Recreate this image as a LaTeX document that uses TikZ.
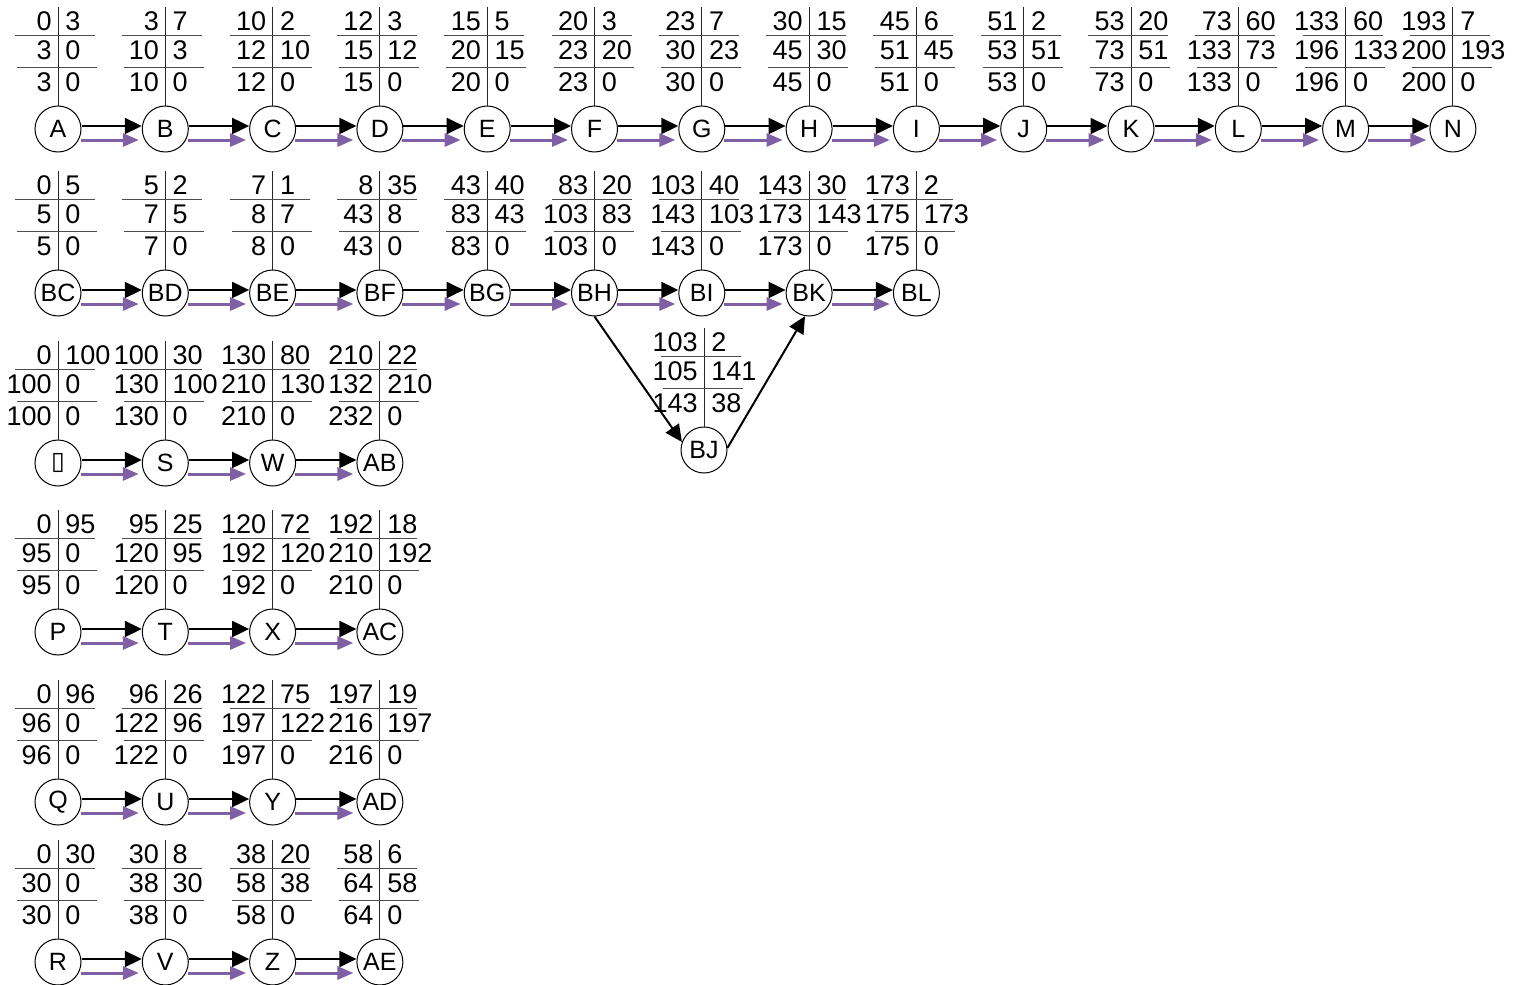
\documentclass[tikz,border=0pt]{standalone}
\usepackage{fontspec}
\setmainfont{Liberation Sans}
\newfontfamily\dejavu{DejaVu Sans}
\usetikzlibrary{arrows.meta}
\newcommand\emptyglyph{{\dejavu ▯}}
\definecolor{cpmpurple}{RGB}{128,96,164}
\tikzset{
  circ/.style={draw, circle, line width=0.5pt, minimum size=23pt, inner sep=0pt, font=\fontsize{12.5}{14}\selectfont},
  tline/.style={line width=0.5pt, draw=black!85},
  hline/.style={line width=0.5pt, draw=black!70},
  lnum/.style={anchor=east, inner sep=0pt, font=\fontsize{13.5}{15}\selectfont},
  rnum/.style={anchor=west, inner sep=0pt, font=\fontsize{13.5}{15}\selectfont},
  blk/.style={line width=1pt, -{Triangle[length=8.5pt,width=8pt]}},
  prp/.style={line width=1.5pt, draw=cpmpurple, -{Triangle[length=8pt,width=6.5pt]}, cpmpurple},
}
\begin{document}
\begin{tikzpicture}[x=0.5pt, y=-0.5pt]
\useasboundingbox (0,0) rectangle (1523,985);
\foreach \n/\x/\y/\lab/\pa/\pb/\pc/\pd/\pe/\pf in {
 A/58/129/A/0/3/3/0/3/0,
 B/165.3/129/B/3/7/10/3/10/0,
 C/272.6/129/C/10/2/12/10/12/0,
 D/379.9/129/D/12/3/15/12/15/0,
 E/487.2/129/E/15/5/20/15/20/0,
 F/594.5/129/F/20/3/23/20/23/0,
 G/701.8/129/G/23/7/30/23/30/0,
 H/809.1/129/H/30/15/45/30/45/0,
 I/916.4/129/I/45/6/51/45/51/0,
 J/1023.7/129/J/51/2/53/51/53/0,
 K/1131/129/K/53/20/73/51/73/0,
 L/1238.3/129/L/73/60/133/73/133/0,
 M/1345.6/129/M/133/60/196/133/196/0,
 N/1452.9/129/N/193/7/200/193/200/0,
 BC/58/293/BC/0/5/5/0/5/0,
 BD/165.3/293/BD/5/2/7/5/7/0,
 BE/272.6/293/BE/7/1/8/7/8/0,
 BF/379.9/293/BF/8/35/43/8/43/0,
 BG/487.2/293/BG/43/40/83/43/83/0,
 BH/594.5/293/BH/83/20/103/83/103/0,
 BI/701.8/293/BI/103/40/143/103/143/0,
 BK/809.1/293/BK/143/30/173/143/173/0,
 BL/916.4/293/BL/173/2/175/173/175/0,
 BJ/704/450/BJ/103/2/105/141/143/38,
 O/58/463/\emptyglyph/0/100/100/0/100/0,
 S/165.3/463/S/100/30/130/100/130/0,
 W/272.6/463/W/130/80/210/130/210/0,
 AB/379.9/463/AB/210/22/132/210/232/0,
 P/58/632/P/0/95/95/0/95/0,
 T/165.3/632/T/95/25/120/95/120/0,
 X/272.6/632/X/120/72/192/120/192/0,
 AC/379.9/632/AC/192/18/210/192/210/0,
 Q/58/802/Q/0/96/96/0/96/0,
 U/165.3/802/U/96/26/122/96/122/0,
 Y/272.6/802/Y/122/75/197/122/197/0,
 AD/379.9/802/AD/197/19/216/197/216/0,
 R/58/962/R/0/30/30/0/30/0,
 V/165.3/962/V/30/8/38/30/38/0,
 Z/272.6/962/Z/38/20/58/38/58/0,
 AE/379.9/962/AE/58/6/64/58/64/0}{
  \node[circ] (\n) at (\x,\y) {\lab};
  \draw[tline] (\x,{\y-122}) -- (\n.north);
  \draw[hline] ({\x-43},{\y-94}) -- ({\x+37},{\y-94});
  \draw[hline] ({\x-41},{\y-62}) -- ({\x+39},{\y-62});
  \node[lnum] at ({\x-6},{\y-108}) {\pa};
  \node[rnum] at ({\x+7},{\y-108}) {\pb};
  \node[lnum] at ({\x-6},{\y-79}) {\pc};
  \node[rnum] at ({\x+7},{\y-79}) {\pd};
  \node[lnum] at ({\x-6},{\y-47}) {\pe};
  \node[rnum] at ({\x+7},{\y-47}) {\pf};
}
\foreach \s/\t in {A/B,B/C,C/D,D/E,E/F,F/G,G/H,H/I,I/J,J/K,K/L,L/M,M/N,
  BC/BD,BD/BE,BE/BF,BF/BG,BG/BH,BH/BI,BI/BK,BK/BL,
  O/S,S/W,W/AB,P/T,T/X,X/AC,Q/U,U/Y,Y/AD,R/V,V/Z,Z/AE}{
  \draw[blk] ([yshift=1.5pt]\s.east) -- ([yshift=1.5pt]\t.west);
  \draw[prp] ([yshift=-5.5pt,xshift=-0.5pt]\s.east) -- ([yshift=-5.5pt,xshift=-1.5pt]\t.west);
}
\draw[blk] (BH.south) -- (BJ.160);
\draw[blk] (BJ.5) -- (BK.260);
\end{tikzpicture}
\end{document}
